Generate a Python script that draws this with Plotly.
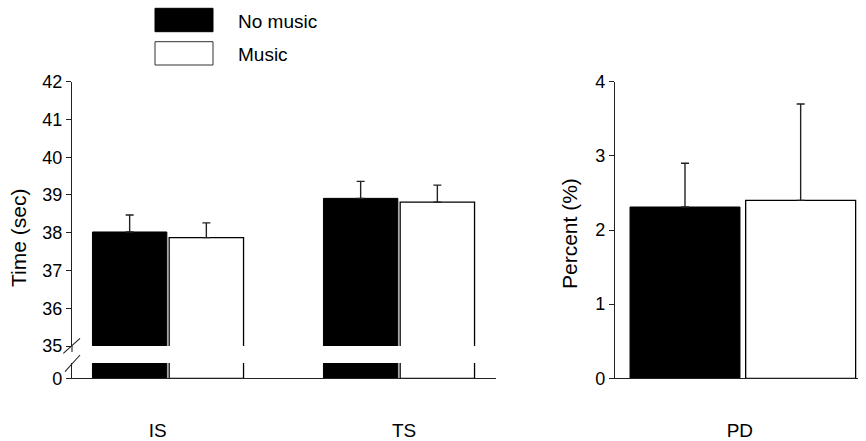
import plotly.graph_objects as go

# ---------------- data ----------------
categories = ["IS", "TS"]
no_music = [38.02, 38.91]
no_music_err = [0.45, 0.45]
music = [37.87, 38.81]
music_err = [0.39, 0.45]

pd_category = ["PD"]
pd_no_music = [2.31]
pd_no_music_err = [0.59]
pd_music = [2.40]
pd_music_err = [1.30]

time_ticks = [35, 36, 37, 38, 39, 40, 41, 42]
time_ticks_low = [0]
percent_ticks = [0, 1, 2, 3, 4]

series_names = ["No music", "Music"]
y_title_left = "Time (sec)"
y_title_right = "Percent (%)"

# ---------------- layout helpers ----------------
W, H = 866, 441
FONT = "Liberation Sans, Arial, sans-serif"


def fx(px):
    return px / W


def fy(py):
    return 1 - py / H


UNIT = 231.0  # px per category step
idx = list(range(len(categories)))
pd_idx = [0]

fig = go.Figure()

bar_off_black, bar_off_white, bar_w = -0.327, 0.005, 0.322
err_style = dict(type="data", symmetric=False, color="#222", thickness=1.4, width=4)

# upper (broken) part
fig.add_trace(go.Bar(x=idx, y=no_music, name=series_names[0], xaxis="x2", yaxis="y",
                     marker=dict(color="black", line=dict(color="black", width=1)),
                     offset=bar_off_black, width=bar_w,
                     error_y=dict(array=no_music_err, arrayminus=[0] * len(idx), **err_style),
                     showlegend=False))
fig.add_trace(go.Bar(x=idx, y=music, name=series_names[1], xaxis="x2", yaxis="y",
                     marker=dict(color="white", line=dict(color="black", width=1.3)),
                     offset=bar_off_white, width=bar_w,
                     error_y=dict(array=music_err, arrayminus=[0] * len(idx), **err_style),
                     showlegend=False))
# lower stub part
fig.add_trace(go.Bar(x=idx, y=no_music, name=series_names[0], xaxis="x", yaxis="y2",
                     marker=dict(color="black", line=dict(color="black", width=1)),
                     offset=bar_off_black, width=bar_w, showlegend=False))
fig.add_trace(go.Bar(x=idx, y=music, name=series_names[1], xaxis="x", yaxis="y2",
                     marker=dict(color="white", line=dict(color="black", width=1.3)),
                     offset=bar_off_white, width=bar_w, showlegend=False))

# right panel
pd_off_black, pd_off_white, pd_w = -0.4887, 0.012, 0.476
fig.add_trace(go.Bar(x=pd_idx, y=pd_no_music, name=series_names[0], xaxis="x3", yaxis="y3",
                     marker=dict(color="black", line=dict(color="black", width=1)),
                     offset=pd_off_black, width=pd_w,
                     error_y=dict(array=pd_no_music_err, arrayminus=[0], **err_style),
                     showlegend=False))
fig.add_trace(go.Bar(x=pd_idx, y=pd_music, name=series_names[1], xaxis="x3", yaxis="y3",
                     marker=dict(color="white", line=dict(color="black", width=1.3)),
                     offset=pd_off_white, width=pd_w,
                     error_y=dict(array=pd_music_err, arrayminus=[0], **err_style),
                     showlegend=False))

tickfont = dict(family=FONT, size=18, color="black")
axis_common = dict(showgrid=False, zeroline=False, showline=True, linecolor="#222",
                   linewidth=1.2, tickfont=tickfont, fixedrange=True, automargin=False)
yaxis_common = dict(axis_common, ticks="outside", ticklen=5, tickcolor="#222", tickwidth=1.2)

left_x_range = [(72 - 168) / UNIT, (496 - 168) / UNIT]
label_shift = [-0.045, 0.022]

fig.update_layout(
    template="none",
    width=W, height=H, autosize=False,
    margin=dict(l=0, r=0, t=0, b=0, pad=0),
    paper_bgcolor="white", plot_bgcolor="rgba(0,0,0,0)",
    barmode="overlay",
    font=dict(family=FONT, color="black"),
    xaxis=dict(axis_common, domain=[fx(72), fx(496)], anchor="y2", range=left_x_range,
               tickmode="array", tickvals=[i + s for i, s in zip(idx, label_shift)],
               ticktext=categories, ticks="", ticklabelstandoff=35,
               tickfont=dict(family=FONT, size=19, color="black")),
    xaxis2=dict(domain=[fx(72), fx(496)], anchor="y", range=left_x_range, visible=False,
                fixedrange=True, automargin=False),
    yaxis=dict(yaxis_common, domain=[fy(346), fy(81.7)], anchor="x2", range=[35, 42],
               tickmode="array", tickvals=time_ticks, ticktext=[str(t) for t in time_ticks]),
    yaxis2=dict(yaxis_common, domain=[fy(378.3), fy(363)], anchor="x", range=[0, 1],
                tickmode="array", tickvals=time_ticks_low,
                ticktext=[str(t) for t in time_ticks_low]),
    xaxis3=dict(axis_common, domain=[fx(615), fx(858)], anchor="y3",
                range=[(615 - 742.9) / UNIT, (858 - 742.9) / UNIT],
                tickmode="array", tickvals=[-0.013], ticktext=pd_category, ticks="",
                ticklabelstandoff=35, tickfont=dict(family=FONT, size=19, color="black")),
    yaxis3=dict(yaxis_common, domain=[fy(378.3), fy(81.7)], anchor="x3", range=[0, 4],
                tickmode="array", tickvals=percent_ticks,
                ticktext=[str(t) for t in percent_ticks]),
)

# axis titles
fig.add_annotation(text=y_title_left, xref="paper", yref="paper", x=fx(18), y=fy(238),
                   textangle=-90, showarrow=False, xanchor="center", yanchor="middle",
                   font=dict(family=FONT, size=21, color="black"))
fig.add_annotation(text=y_title_right, xref="paper", yref="paper", x=fx(569), y=fy(234),
                   textangle=-90, showarrow=False, xanchor="center", yanchor="middle",
                   font=dict(family=FONT, size=21, color="black"))

# axis break marks
brk = dict(type="line", xref="paper", yref="paper", line=dict(color="#222", width=1.1))
fig.add_shape(x0=fx(72), y0=fy(346), x1=fx(72), y1=fy(352), **brk)
fig.add_shape(x0=fx(63.3), y0=fy(353.3), x1=fx(80), y1=fy(338.3), **brk)
fig.add_shape(x0=fx(65), y0=fy(371.7), x1=fx(80), y1=fy(355), **brk)

# legend (drawn manually to get large swatches)
fig.add_shape(type="rect", xref="paper", yref="paper", x0=fx(155), x1=fx(213),
              y0=fy(31.7), y1=fy(8.3), fillcolor="black", line=dict(color="black", width=1))
fig.add_shape(type="rect", xref="paper", yref="paper", x0=fx(155), x1=fx(213),
              y0=fy(65), y1=fy(41.7), fillcolor="white", line=dict(color="#333", width=1))
fig.add_annotation(text=series_names[0], xref="paper", yref="paper", x=fx(236), y=fy(21),
                   showarrow=False, xanchor="left", yanchor="middle",
                   font=dict(family=FONT, size=19, color="black"))
fig.add_annotation(text=series_names[1], xref="paper", yref="paper", x=fx(236), y=fy(54),
                   showarrow=False, xanchor="left", yanchor="middle",
                   font=dict(family=FONT, size=19, color="black"))

fig.write_html("out.html", config={"displayModeBar": False},
               post_script="document.body.style.margin='0';")
